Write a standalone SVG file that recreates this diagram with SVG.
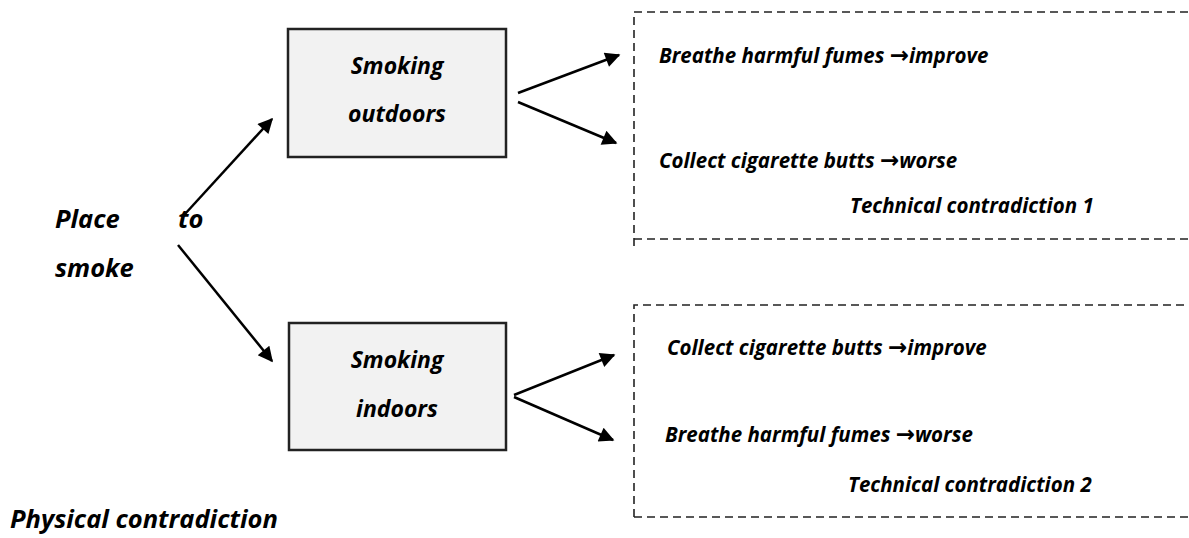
<svg xmlns="http://www.w3.org/2000/svg" width="1189" height="538" viewBox="0 0 1189 538">
<style>
text{font-family:"Open Sans","Liberation Sans",sans-serif;font-weight:bold;font-style:italic;font-size:20.5px;fill:#000}
.big{font-size:25.5px}
.mid{font-size:23px}
.arr{font-family:"DejaVu Sans",sans-serif;font-style:normal;font-weight:bold;font-size:23px}
.box{fill:#f2f2f2;stroke:#222;stroke-width:2.5}
.dash{fill:none;stroke:#222;stroke-width:1.6;stroke-dasharray:8,5}
.con{stroke:#000;stroke-width:2.5;fill:none;marker-end:url(#ah)}
</style>
<defs>
<marker id="ah" viewBox="0 0 10 10" refX="9" refY="5" markerWidth="7" markerHeight="6" orient="auto" markerUnits="strokeWidth">
<path d="M0,0 L10,5 L0,10 z" fill="#000"/>
</marker>
</defs>
<rect width="1189" height="538" fill="#fff"/>
<g id="place">
<text class="big" x="55" y="228">Place</text>
<text class="big" x="178" y="228">to</text>
<text class="big" x="55" y="277">smoke</text>
</g>
<g id="outdoors">
<rect class="box" x="288" y="29" width="218" height="128"/>
<text class="mid" x="397" y="74" text-anchor="middle">Smoking</text>
<text class="mid" x="397" y="122" text-anchor="middle">outdoors</text>
</g>
<g id="indoors">
<rect class="box" x="289" y="323" width="217" height="127"/>
<text class="mid" x="397" y="368" text-anchor="middle">Smoking</text>
<text class="mid" x="397" y="417" text-anchor="middle">indoors</text>
</g>
<g id="tc1">
<path class="dash" d="M634,246 L634,12 L1195,12 M634,239 L1195,239"/>
<text x="659" y="63">Breathe harmful fumes <tspan class="arr">→</tspan>improve</text>
<text x="659" y="168">Collect cigarette butts <tspan class="arr">→</tspan>worse</text>
<text x="850" y="213">Technical contradiction 1</text>
</g>
<g id="tc2">
<path class="dash" d="M634,517 L634,305 L1195,305 M634,517 L1195,517"/>
<text x="667" y="355">Collect cigarette butts <tspan class="arr">→</tspan>improve</text>
<text x="665" y="442">Breathe harmful fumes <tspan class="arr">→</tspan>worse</text>
<text x="848" y="492">Technical contradiction 2</text>
</g>
<g id="physical">
<text class="big" x="10" y="528">Physical contradiction</text>
</g>
<g id="connectors">
<line class="con" x1="185" y1="214" x2="272" y2="119"/>
<line class="con" x1="178" y1="245" x2="272" y2="361"/>
<line class="con" x1="518" y1="93" x2="619" y2="55"/>
<line class="con" x1="518" y1="102" x2="616" y2="143"/>
<line class="con" x1="514" y1="395" x2="614" y2="355"/>
<line class="con" x1="514" y1="397" x2="613" y2="440"/>
</g>
</svg>
